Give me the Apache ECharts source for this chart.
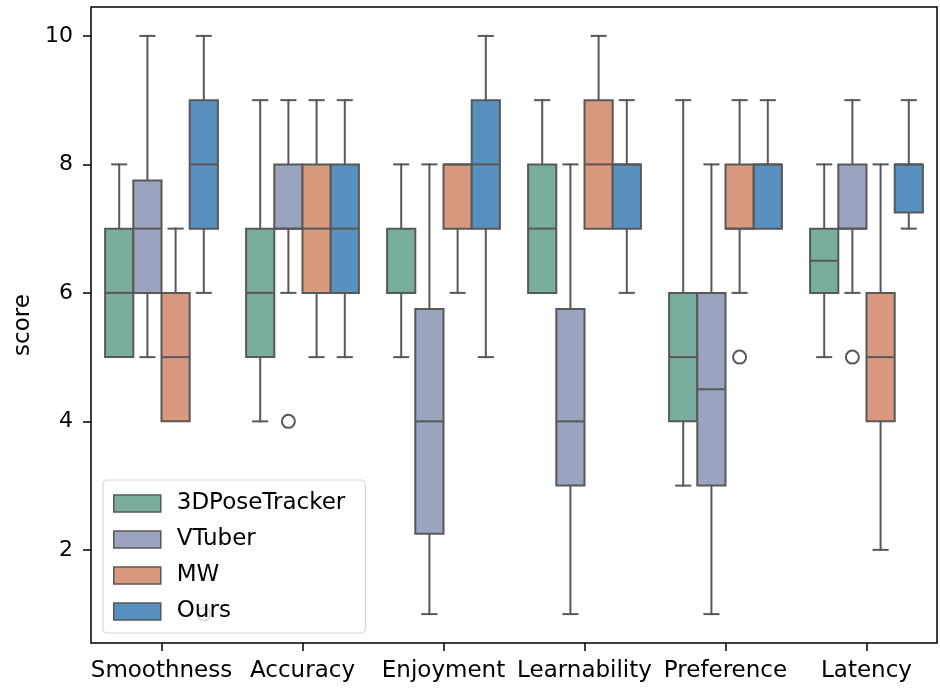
<!DOCTYPE html>
<html>
<head>
<meta charset="utf-8">
<script src="https://cdn.jsdelivr.net/npm/echarts@6/dist/echarts.min.js"></script>
<style>
  html, body { margin: 0; padding: 0; background: #fff; }
  #chart { width: 940px; height: 690px; }
</style>
</head>
<body>
<div id="chart"></div>
<script>
// Rating categories along the x axis
const categories = ['Smoothness', 'Accuracy', 'Enjoyment', 'Learnability', 'Preference', 'Latency'];
// Systems compared (hue groups)
const groups = ['3DPoseTracker', 'VTuber', 'MW', 'Ours'];
const colors = ['#79ae9c', '#9aa4bf', '#d9997f', '#5890c0'];

// Box statistics per category: [whisker low, Q1, median, Q3, whisker high]
const poseTrackerStats = [[5, 5, 6, 7, 8], [4, 5, 6, 7, 9], [5, 6, 6, 7, 8], [6, 6, 7, 8, 9], [3, 4, 5, 6, 9], [5, 6, 6.5, 7, 8]];
const vtuberStats = [[5, 6, 7, 7.75, 10], [6, 7, 7, 8, 9], [1, 2.25, 4, 5.75, 8], [1, 3, 4, 5.75, 8], [1, 3, 4.5, 6, 8], [6, 7, 7, 8, 9]];
const mwStats = [[4, 4, 5, 6, 7], [5, 6, 7, 8, 9], [6, 7, 8, 8, 8], [7, 7, 8, 9, 10], [6, 7, 7, 8, 9], [2, 4, 5, 6, 8]];
const oursStats = [[6, 7, 8, 9, 10], [5, 6, 7, 8, 9], [5, 7, 8, 9, 10], [6, 7, 8, 8, 9], [7, 7, 8, 8, 9], [7, 7.25, 8, 8, 9]];

// Outliers per group: [category index, score]
const poseTrackerOutliers = [];
const vtuberOutliers = [[1, 4], [5, 5]];
const mwOutliers = [[4, 5]];
const oursOutliers = [[0, 1]];

// y axis tick labels
const yTicks = [2, 4, 6, 8, 10];

const statsByGroup = [poseTrackerStats, vtuberStats, mwStats, oursStats];
const outliersByGroup = [poseTrackerOutliers, vtuberOutliers, mwOutliers, oursOutliers];

const EDGE = '#585858';
const LINE_W = 2;
const FONT = 'DejaVu Sans';
const HUE_SPAN = 0.8;   // fraction of the category band covered by the group of boxes

function boxGeometry(params, api, groupIdx) {
  const band = params.coordSys.width / categories.length;
  const boxW = band * HUE_SPAN / groups.length;
  const offset = (groupIdx - (groups.length - 1) / 2) * boxW;
  const cx = api.coord([api.value(0), 0])[0] + offset;
  return { cx, boxW };
}

function makeBoxRenderer(groupIdx) {
  return function (params, api) {
    const { cx, boxW } = boxGeometry(params, api, groupIdx);
    const cat = api.value(0);
    const y = (v) => api.coord([cat, v])[1];
    const yMin = y(api.value(1)), yQ1 = y(api.value(2)), yMed = y(api.value(3)),
          yQ3 = y(api.value(4)), yMax = y(api.value(5));
    const half = boxW / 2, capHalf = boxW / 4;
    const lineStyle = { stroke: EDGE, lineWidth: LINE_W, lineCap: 'square' };
    const children = [];
    if (yMin !== yQ1) {
      children.push({ type: 'line', shape: { x1: cx, y1: yQ1, x2: cx, y2: yMin }, style: lineStyle });
      children.push({ type: 'line', shape: { x1: cx - capHalf, y1: yMin, x2: cx + capHalf, y2: yMin }, style: lineStyle });
    }
    if (yMax !== yQ3) {
      children.push({ type: 'line', shape: { x1: cx, y1: yQ3, x2: cx, y2: yMax }, style: lineStyle });
      children.push({ type: 'line', shape: { x1: cx - capHalf, y1: yMax, x2: cx + capHalf, y2: yMax }, style: lineStyle });
    }
    children.push({
      type: 'rect',
      shape: { x: cx - half, y: yQ3, width: boxW, height: yQ1 - yQ3 },
      style: { fill: colors[groupIdx], stroke: EDGE, lineWidth: LINE_W }
    });
    children.push({ type: 'line', shape: { x1: cx - half, y1: yMed, x2: cx + half, y2: yMed }, style: { stroke: EDGE, lineWidth: LINE_W } });
    return { type: 'group', children };
  };
}

function makeOutlierRenderer(groupIdx) {
  return function (params, api) {
    const { cx } = boxGeometry(params, api, groupIdx);
    const cy = api.coord([api.value(0), api.value(1)])[1];
    return {
      type: 'circle',
      shape: { cx, cy, r: 6.5 },
      style: { fill: 'rgba(255,255,255,0)', stroke: EDGE, lineWidth: LINE_W }
    };
  };
}

const series = [];
groups.forEach((name, gi) => {
  series.push({
    name,
    type: 'custom',
    renderItem: makeBoxRenderer(gi),
    itemStyle: { color: colors[gi], borderColor: EDGE, borderWidth: 1.5 },
    encode: { x: 0, y: [1, 2, 3, 4, 5] },
    data: statsByGroup[gi].map((s, ci) => [ci].concat(s)),
    z: 2
  });
});
groups.forEach((name, gi) => {
  series.push({
    name: name + ' outliers',
    type: 'custom',
    renderItem: makeOutlierRenderer(gi),
    encode: { x: 0, y: 1 },
    data: outliersByGroup[gi],
    z: 3
  });
});

const chart = echarts.init(document.getElementById('chart'), null, { renderer: 'canvas' });
chart.setOption({
  animation: false,
  textStyle: { fontFamily: FONT },
  grid: {
    left: 91, right: 3, top: 7, bottom: 47,
    outerBoundsMode: 'none',
    containLabel: false,
    show: true, borderColor: '#000', borderWidth: 1.5, backgroundColor: '#fff'
  },
  legend: {
    data: groups,
    orient: 'vertical',
    left: 103, top: 480,
    icon: 'rect',
    itemWidth: 47, itemHeight: 17, itemGap: 13,
    padding: [12, 20, 10, 10],
    backgroundColor: 'rgba(255,255,255,0.8)',
    borderColor: 'rgba(204,204,204,0.8)', borderWidth: 1.2, borderRadius: 4,
    itemStyle: { borderColor: EDGE, borderWidth: 1.5 },
    textStyle: { fontFamily: FONT, fontSize: 23, color: '#000', padding: [0, 0, 0, 11] },
    selectedMode: false,
    z: 10
  },
  xAxis: {
    type: 'category',
    data: categories,
    boundaryGap: true,
    axisLine: { show: false },
    axisTick: { show: true, alignWithLabel: true, length: 8, lineStyle: { color: '#000', width: 1.5 } },
    axisLabel: { color: '#000', fontSize: 23, fontFamily: FONT, margin: 17, interval: 0 },
    splitLine: { show: false }
  },
  yAxis: {
    type: 'value',
    min: 0.55, max: 10.45,
    name: 'score',
    nameLocation: 'middle',
    nameRotate: 90,
    nameGap: 56,
    nameTextStyle: { color: '#000', fontSize: 23, fontFamily: FONT },
    axisLine: { show: false },
    axisTick: { show: true, length: 8, lineStyle: { color: '#000', width: 1.5 }, customValues: yTicks },
    axisLabel: { color: '#000', fontSize: 22, fontFamily: FONT, margin: 18, customValues: yTicks },
    splitLine: { show: false }
  },
  series
});
</script>
</body>
</html>
